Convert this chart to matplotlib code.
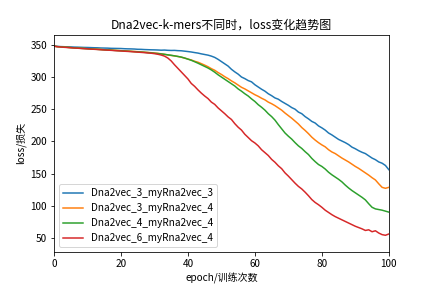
import matplotlib
matplotlib.use("Agg")
import matplotlib.pyplot as plt

plt.rcParams['font.family'] = ['Noto Sans CJK SC', 'DejaVu Sans']
plt.rcParams['axes.unicode_minus'] = False

epochs = list(range(101))

labels = ["Dna2vec_3_myRna2vec_3", "Dna2vec_3_myRna2vec_4",
          "Dna2vec_4_myRna2vec_4", "Dna2vec_6_myRna2vec_4"]

loss_3_3 = [348.0, 347.6, 347.3, 347.1, 346.9, 346.8, 346.5, 346.4, 346.2, 346.0, 345.9,
            345.7, 345.5, 345.4, 345.1, 345.0, 344.9, 344.6, 344.5, 344.4, 344.3,
            344.0, 343.8, 343.7, 343.5, 343.1, 343.0, 342.7, 342.5, 342.3, 342.2,
            342.0, 341.7, 341.9, 341.5, 341.3, 341.4, 341.0, 340.8, 340.2, 339.6,
            338.9, 338.0, 337.2, 336.0, 335.0, 334.0, 332.5, 330.5, 327.5, 324.0,
            320.5, 317.0, 312.0, 308.0, 304.5, 300.0, 297.5, 294.5, 292.5, 288.0,
            284.5, 281.0, 278.0, 274.0, 271.0, 267.5, 265.5, 262.0, 259.0, 256.0,
            252.5, 250.0, 245.5, 243.0, 238.5, 235.0, 231.0, 228.5, 224.0, 221.0,
            217.5, 213.0, 210.0, 206.5, 203.0, 200.5, 198.0, 195.0, 191.0, 188.5,
            185.5, 183.0, 181.0, 177.5, 174.0, 171.5, 168.0, 166.0, 162.5, 156.0]

loss_3_4 = [348.0, 347.2, 346.8, 346.5, 346.1, 345.8, 345.3, 345.0, 344.7, 344.4, 344.0,
            343.8, 343.4, 343.1, 342.9, 342.5, 342.2, 342.0, 341.6, 341.3, 341.0,
            340.7, 340.4, 340.0, 339.7, 339.4, 339.0, 338.6, 338.2, 337.8, 337.3,
            336.8, 336.1, 335.2, 334.3, 333.5, 332.8, 331.9, 330.8, 329.5, 327.9,
            326.5, 324.5, 323.0, 320.8, 318.5, 316.0, 313.0, 310.5, 307.0, 304.0,
            300.5, 297.5, 294.0, 291.0, 287.5, 284.0, 281.5, 278.5, 275.5, 272.5,
            270.0, 267.0, 264.5, 261.0, 258.5, 255.5, 252.0, 248.5, 244.0, 240.0,
            236.0, 231.5, 227.0, 221.5, 217.0, 212.0, 206.5, 202.0, 198.0, 194.5,
            191.5, 187.0, 183.5, 181.0, 177.5, 174.0, 171.0, 168.0, 164.5, 161.0,
            158.0, 154.5, 151.0, 147.5, 143.5, 140.0, 134.0, 128.5, 127.0, 128.5]

loss_4_4 = [348.0, 347.3, 346.9, 346.4, 346.2, 345.7, 345.4, 345.0, 344.6, 344.3, 344.0,
            343.6, 343.3, 343.0, 342.7, 342.3, 342.0, 341.8, 341.4, 341.1, 340.8,
            340.5, 340.1, 339.8, 339.5, 339.2, 338.8, 338.4, 338.0, 337.5, 337.0,
            336.5, 335.9, 335.3, 334.5, 333.8, 332.9, 332.0, 331.0, 329.5, 327.8,
            326.0, 323.8, 321.5, 319.0, 316.5, 314.0, 311.0, 307.5, 303.5, 300.0,
            296.5, 293.0, 289.5, 286.0, 281.5, 278.0, 274.0, 270.5, 266.0, 262.0,
            257.0, 253.0, 248.5, 243.0, 238.5, 233.0, 226.0, 219.5, 213.0, 208.0,
            203.5, 198.0, 193.0, 189.0, 184.0, 179.5, 173.5, 168.5, 164.0, 161.0,
            157.0, 152.0, 148.0, 144.5, 141.0, 137.0, 132.0, 127.5, 123.5, 120.0,
            116.5, 113.0, 109.0, 103.0, 97.5, 95.0, 94.0, 93.0, 91.5, 90.0]

loss_6_4 = [348.0, 347.1, 346.7, 346.2, 345.9, 345.5, 345.1, 344.8, 344.4, 344.1, 343.8,
            343.4, 343.1, 342.8, 342.4, 342.1, 341.8, 341.5, 341.1, 340.8, 340.5,
            340.1, 339.8, 339.5, 339.1, 338.7, 338.3, 337.9, 337.4, 337.0, 336.3,
            335.4, 334.2, 332.5, 329.5, 325.0, 319.0, 313.5, 308.0, 302.5, 297.0,
            290.0, 285.5, 280.0, 275.0, 270.5, 266.5, 261.0, 257.5, 252.0, 247.5,
            243.0, 238.0, 234.0, 227.5, 222.0, 217.5, 211.0, 206.0, 201.0, 197.5,
            193.0, 187.0, 182.5, 178.0, 172.0, 167.5, 162.0, 157.5, 151.0, 146.0,
            140.5, 135.0, 130.0, 126.0, 121.0, 115.5, 109.5, 105.0, 101.5, 97.5,
            93.0, 89.5, 86.0, 83.0, 80.5, 78.0, 75.5, 73.0, 70.5, 68.0,
            66.0, 64.0, 61.5, 62.5, 59.5, 61.0, 57.5, 55.0, 54.0, 56.0]

series = [loss_3_3, loss_3_4, loss_4_4, loss_6_4]

fig, ax = plt.subplots(figsize=(6, 4), dpi=72)
fig.subplots_adjust(left=0.125, right=0.9, top=0.88, bottom=0.125)

for s, lab in zip(series, labels):
    ax.plot(epochs, s, label=lab, linewidth=1.5)

ax.set_xlim(0, 100)
ax.set_ylim(28, 366)
ax.set_title("Dna2vec-k-mers不同时，loss变化趋势图")
ax.set_xlabel("epoch/训练次数")
ax.set_ylabel("loss/损失")
ax.legend(loc="lower left")

fig.savefig("out.png", dpi=72)
